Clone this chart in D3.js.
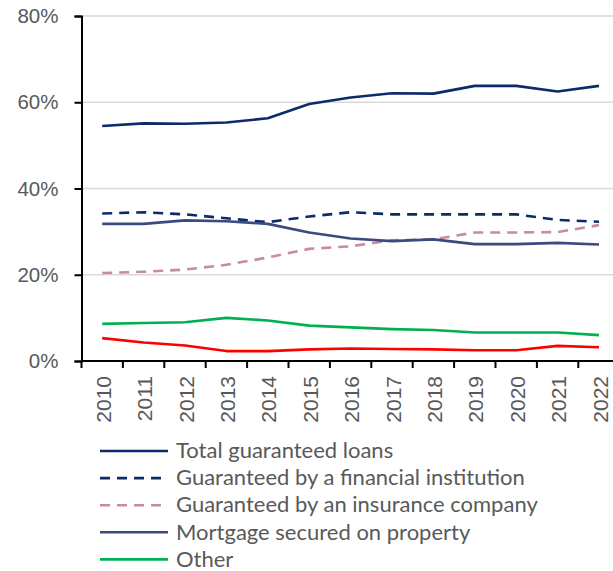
<!DOCTYPE html>
<html>
<head>
<meta charset="utf-8">
<script src="https://cdn.jsdelivr.net/npm/d3@7"></script>
<style>
  html, body { margin: 0; padding: 0; background: #fff; }
  svg { display: block; font-family: Lato, "Noto Sans", sans-serif; }
</style>
</head>
<body>
<svg id="chart" width="613" height="571"></svg>
<script>
// Years on the category axis
const years = ["2010","2011","2012","2013","2014","2015","2016","2017","2018","2019","2020","2021","2022"];

// Share of loans, in percent
const totalGuaranteed = [54.5, 55.1, 55.0, 55.3, 56.3, 59.6, 61.1, 62.1, 62.0, 63.8, 63.8, 62.5, 63.8];
const byFinancialInst = [34.2, 34.5, 34.0, 33.1, 32.2, 33.5, 34.5, 34.0, 34.0, 34.0, 34.0, 32.7, 32.3];
const byInsurance     = [20.4, 20.7, 21.2, 22.3, 24.0, 26.0, 26.6, 28.0, 28.2, 29.8, 29.8, 29.9, 31.5];
const mortgage        = [31.8, 31.8, 32.6, 32.4, 31.8, 29.8, 28.4, 27.8, 28.2, 27.1, 27.1, 27.4, 27.0];
const other           = [8.6, 8.8, 9.0, 10.0, 9.4, 8.2, 7.8, 7.4, 7.2, 6.6, 6.6, 6.6, 6.0];
const otherRed        = [5.3, 4.3, 3.6, 2.3, 2.3, 2.7, 2.9, 2.8, 2.7, 2.5, 2.5, 3.5, 3.2];

const yTicks = [0, 20, 40, 60, 80];

const series = [
  { name: "Total guaranteed loans", values: totalGuaranteed, color: "#0d2a6b", dash: null, legend: true },
  { name: "Guaranteed by a financial institution", values: byFinancialInst, color: "#0d2a6b", dash: "10,7", legend: true },
  { name: "Guaranteed by an insurance company", values: byInsurance, color: "#c88c9c", dash: "10,7", legend: true },
  { name: "Mortgage secured on property", values: mortgage, color: "#3c4a7f", dash: null, legend: true },
  { name: "Other", values: other, color: "#00b050", dash: null, legend: true },
  { name: "", values: otherRed, color: "#ff0000", dash: null, legend: false }
];

const svg = d3.select("#chart");
const plotLeft = 81.5, plotTop = 16, plotBottom = 361;
const band = 41.4;
const axisFont = "'Liberation Sans', Arial, sans-serif";

const x = d3.scaleBand().domain(years).range([plotLeft, plotLeft + band * years.length]);
const y = d3.scaleLinear().domain([0, 80]).range([plotBottom, plotTop]);

// horizontal gridlines
svg.append("g")
  .selectAll("line")
  .data(yTicks.filter(d => d > 0))
  .join("line")
  .attr("x1", plotLeft).attr("x2", 613)
  .attr("y1", d => y(d)).attr("y2", d => y(d))
  .attr("stroke", "#d9d9d9").attr("stroke-width", 1.5);

// y axis
const yAxis = svg.append("g")
  .attr("transform", `translate(${plotLeft},0)`)
  .call(d3.axisLeft(y).tickValues(yTicks).tickFormat(d => d + "%").tickSize(7).tickPadding(16));
yAxis.select(".domain").attr("stroke", "#000").attr("stroke-width", 2);
yAxis.selectAll(".tick line").attr("stroke", "#000").attr("stroke-width", 2);
yAxis.selectAll("text").attr("fill", "#595959").style("font-size", "20.5px")
  .style("font-family", axisFont);

// x axis with ticks on band boundaries
const xAxisG = svg.append("g").attr("transform", `translate(0,${plotBottom})`);
xAxisG.append("line")
  .attr("x1", plotLeft).attr("x2", 613).attr("y1", 0).attr("y2", 0)
  .attr("stroke", "#000").attr("stroke-width", 2);
xAxisG.selectAll("line.tk")
  .data(years)
  .join("line").attr("class", "tk")
  .attr("x1", d => x(d)).attr("x2", d => x(d))
  .attr("y1", 0).attr("y2", 7)
  .attr("stroke", "#000").attr("stroke-width", 2);
xAxisG.selectAll("text")
  .data(years)
  .join("text")
  .attr("transform", d => `translate(${x(d) + x.bandwidth() / 2 + 8.5},15) rotate(-90)`)
  .attr("text-anchor", "end")
  .attr("fill", "#595959")
  .style("font-size", "21px")
  .style("font-family", axisFont)
  .text(d => d);

// series lines
const line = d3.line()
  .x((d, i) => x(years[i]) + x.bandwidth() / 2)
  .y(d => y(d));

svg.append("g")
  .selectAll("path")
  .data(series)
  .join("path")
  .attr("d", s => line(s.values))
  .attr("fill", "none")
  .attr("stroke", s => s.color)
  .attr("stroke-width", 2.6)
  .attr("stroke-dasharray", s => s.dash)
  .attr("stroke-linejoin", "round");

// legend
const legendItems = series.filter(s => s.legend);
const lg = svg.append("g");
const rowY = i => 451 + i * 27.1;
lg.selectAll("line")
  .data(legendItems)
  .join("line")
  .attr("x1", 100).attr("x2", 168)
  .attr("y1", (d, i) => rowY(i)).attr("y2", (d, i) => rowY(i))
  .attr("stroke", d => d.color)
  .attr("stroke-width", 2.6)
  .attr("stroke-dasharray", d => d.dash);
lg.selectAll("text")
  .data(legendItems)
  .join("text")
  .attr("x", 176)
  .attr("y", (d, i) => rowY(i))
  .attr("dy", "0.33em")
  .attr("fill", "#595959")
  .style("font-size", "22px")
  .text(d => d.name);
</script>
</body>
</html>
